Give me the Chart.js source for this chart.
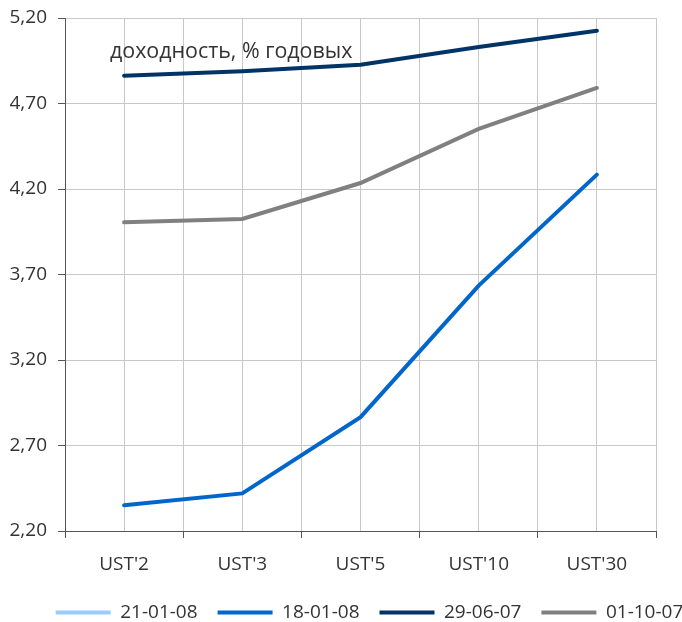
<!DOCTYPE html>
<html>
<head>
<meta charset="utf-8">
<script src="https://cdn.jsdelivr.net/npm/chart.js@4/dist/chart.umd.min.js"></script>
<style>
    html, body { margin: 0; padding: 0; background: #fff; }
    #wrap { position: relative; width: 682px; height: 622px; }
</style>
</head>
<body>
<div id="wrap"><canvas id="curve"></canvas></div>
<script>
// maturities on the x axis
const categories = ["UST'2", "UST'3", "UST'5", "UST'10", "UST'30"];

// yields, % per annum
const series210108 = [null, null, null, null, null];
const series180108 = [2.35, 2.42, 2.866, 3.635, 4.284];
const series290607 = [4.863, 4.888, 4.927, 5.03, 5.126];
const series011007 = [4.005, 4.025, 4.235, 4.551, 4.791];

const seriesLabels = ['21-01-08', '18-01-08', '29-06-07', '01-10-07'];
const yTicks = [2.2, 2.7, 3.2, 3.7, 4.2, 4.7, 5.2];
const noteText = 'доходность, % годовых';

const toPoints = (values) => values.map((v, i) => ({ x: i, y: v }));

Chart.defaults.font.family = "'Open Sans', sans-serif";
Chart.defaults.font.size = 19;
Chart.defaults.color = '#333';

const gridColor = '#c8c8c8';
const axisColor = '#555';

const makeSet = (label, values, color) => ({
    label: label,
    data: toPoints(values),
    borderColor: color,
    backgroundColor: color,
    borderWidth: 4,
    borderCapStyle: 'round',
    pointRadius: 0,
    pointHoverRadius: 0,
    fill: false,
    tension: 0,
});

const notePlugin = {
    id: 'note',
    afterDraw: (chart) => {
        const { ctx, chartArea } = chart;
        ctx.save();
        ctx.font = "21.4px 'Open Sans', sans-serif";
        ctx.fillStyle = '#333';
        ctx.textBaseline = 'alphabetic';
        ctx.fillText(noteText, chartArea.left + 45, chartArea.top + 40);
        ctx.restore();
    },
};

new Chart(document.getElementById('curve'), {
    type: 'line',
    data: {
        datasets: [
            makeSet(seriesLabels[0], series210108, '#99ccff'),
            makeSet(seriesLabels[1], series180108, '#0066cc'),
            makeSet(seriesLabels[2], series290607, '#003366'),
            makeSet(seriesLabels[3], series011007, '#808080'),
        ],
    },
    options: {
        responsive: true,
        maintainAspectRatio: false,
        animation: false,
        layout: {
            padding: { top: 18, left: 0, right: -57, bottom: 0 },
        },
        plugins: {
            tooltip: { enabled: false },
            legend: {
                position: 'bottom',
                align: 'center',
                maxHeight: 39,
                labels: {
                    usePointStyle: true,
                    pointStyle: 'line',
                    pointStyleWidth: 55,
                    padding: 20,
                    color: '#333',
                    font: { size: 19 },
                },
            },
        },
        scales: {
            x: {
                type: 'linear',
                min: -0.5,
                max: 4.5,
                afterFit: (scale) => {
                    scale.height = 52;
                    scale.paddingLeft = 0;
                    scale.paddingRight = 26;
                },
                ticks: {
                    stepSize: 0.5,
                    autoSkip: false,
                    maxRotation: 0,
                    padding: 15,
                    color: '#333',
                    callback: (value) => (Number.isInteger(value) ? categories[value] : ''),
                },
                grid: {
                    color: gridColor,
                    tickLength: 7,
                    tickColor: (ctx) => (ctx.tick && Number.isInteger(ctx.tick.value) ? 'rgba(0,0,0,0)' : axisColor),
                },
                border: { color: axisColor },
            },
            y: {
                min: 2.2,
                max: 5.2,
                afterFit: (scale) => {
                    scale.width = 65;
                    scale.paddingTop = 0;
                    scale.paddingBottom = 0;
                },
                afterBuildTicks: (scale) => {
                    scale.ticks = yTicks.map((v) => ({ value: v }));
                },
                ticks: {
                    stepSize: 0.5,
                    padding: 11,
                    color: '#333',
                    callback: (value) => value.toFixed(2).replace('.', ','),
                },
                grid: {
                    color: gridColor,
                    tickLength: 7,
                    tickColor: axisColor,
                },
                border: { color: axisColor },
            },
        },
    },
    plugins: [notePlugin],
});
</script>
</body>
</html>
